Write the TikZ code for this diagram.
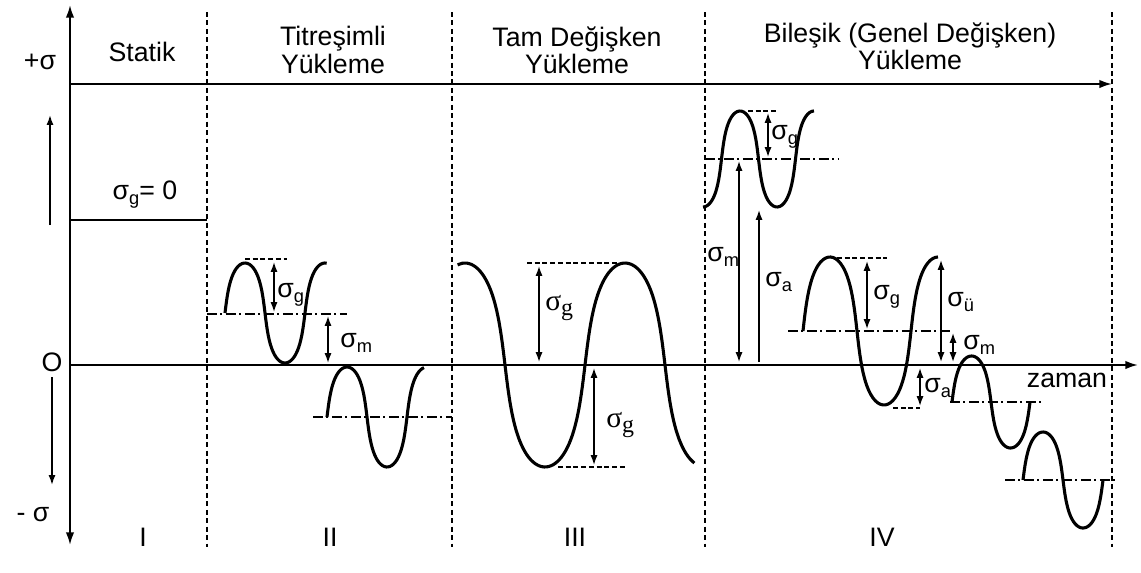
\documentclass[tikz,border=0pt]{standalone}
\usepackage{fontspec}
\setmainfont{Liberation Sans}
\newfontfamily\timesfam{Liberation Serif}
\usepackage{tikz}
\usetikzlibrary{arrows.meta}
\newcommand{\sig}[1]{σ\raisebox{-0.35ex}{\fontsize{13}{13}\selectfont #1}}
\newcommand{\sigser}[1]{σ\raisebox{-0.4ex}{\fontsize{17}{17}\selectfont #1}}

\tikzset{
  axis/.style={line width=1.4pt},
  wave/.style={line width=2.2pt, smooth, samples=80},
  dim/.style={line width=1pt, {Latex[length=7pt,width=5pt]}-{Latex[length=7pt,width=5pt]}},
  onedim/.style={line width=1pt, -{Latex[length=7pt,width=5pt]}},
  sep/.style={line width=1pt, dash pattern=on 3.5pt off 2.5pt},
  meanline/.style={line width=0.8pt, dash pattern=on 7pt off 2.5pt on 1.5pt off 2.5pt},
  peakline/.style={line width=0.8pt, dash pattern=on 3.5pt off 2pt},
  lbl/.style={font=\fontsize{19}{19.5}\selectfont, inner sep=0pt},
  sub/.style={lbl, anchor=west},
}

\begin{document}
\begin{tikzpicture}[x=0.025cm, y=-0.025cm]
  \useasboundingbox (0,0) rectangle (1141,572);
  % axes
  \draw[axis, {Latex[length=9pt,width=6pt]}-{Latex[length=9pt,width=6pt]}] (70,545) -- (70,5);
  \draw[axis, -{Latex[length=9pt,width=6pt]}] (70,84) -- (1112,84);
  \draw[axis, -{Latex[length=9pt,width=6pt]}] (70,365) -- (1138,365);
  \draw[onedim, line width=1.2pt] (50,225) -- (50,115);
  \draw[onedim, line width=1.2pt] (52,377) -- (52,485);
  \foreach \s in {207,452,705,1112}
    \draw[sep] (\s,12) -- (\s,547);

  \node[lbl] (plus) at (40,62) {+σ};
  \node[lbl] (zero) at (52,362) {O};
  \node[lbl] (minus) at (33,515) {- σ};
  \node[lbl] (zaman) at (1067,380) {zaman};
  \node[lbl] (statik) at (142,52) {Statik};
  \node[lbl, align=center] (titr) at (333,50) {Titreşimli\\Yükleme};
  \node[lbl, align=center] (tam) at (577,50) {Tam Değişken\\Yükleme};
  \node[lbl, align=center] (bil) at (910,46) {Bileşik (Genel Değişken)\\Yükleme};
  \foreach \p/\t in {143/I, 330/II, 575/III, 882/IV}
    \node[lbl] (r\t) at (\p,537) {\t};

  % statik
  \draw[line width=2pt] (70,220) -- (207,220);
  \node[lbl] (sg0) at (145,195) {\sig{g}= 0};

  % waves: phase start/end, mean, amplitude, rising zero, quarter period
  \foreach \a/\b/\m/\h/\o/\q in {0/455/313/50/225/20, 0/441/417/50/327/20,
      -281/254/365/102/585/40, -90/450/159/48/721.5/18.5, 0/450/331/74/803/27,
      0/360/402/46/952/19.5, 0/360/480/48/1023/20}
    \draw[wave] plot[variable=\t, domain=\a:\b]
      ({\o + \q/90*(\t - 15*sin(2*\t))}, {\m - \h*sin(\t)});

  % mean and peak lines
  \draw[meanline] (207,314) -- (347,314);
  \draw[meanline] (313,417) -- (452,417);
  \draw[meanline] (705,159) -- (838,159);
  \draw[meanline] (788,331) -- (950,331);
  \draw[meanline] (950,402) -- (1043,402);
  \draw[meanline] (1005,480) -- (1118,480);
  \draw[peakline] (245,259) -- (287,259);
  \draw[peakline] (527,263) -- (620,263);
  \draw[peakline] (558,467) -- (625,467);
  \draw[peakline] (748,111) -- (778,111);
  \draw[peakline] (837,258) -- (887,258);
  \draw[peakline] (893,408) -- (920,408);

  % dimensions
  \draw[dim] (274,262) -- (274,312);
  \draw[dim] (328,316) -- (328,363);
  \draw[dim] (539,266) -- (539,362);
  \draw[dim] (594,368) -- (594,465);
  \draw[dim] (768,113) -- (768,157);
  \draw[dim] (739,161) -- (739,362);
  \draw[onedim] (759,362) -- (759,210);
  \draw[dim] (867,261) -- (867,329);
  \draw[dim] (941,260) -- (941,362);
  \draw[dim] (953,333) -- (953,362);
  \draw[dim] (920,368) -- (920,406);

  \node[sub] (g2) at (277,295) {\sig{g}};
  \node[sub] (m2) at (340,343) {\sig{m}};
  \node[sub, font=\fontsize{21}{22}\timesfam] (g3a) at (545,308) {\sigser{g}};
  \node[sub, font=\fontsize{21}{22}\timesfam] (g3b) at (606,425) {\sigser{g}};
  \node[sub] (g4a) at (771,137) {\sig{g}};
  \node[sub] (m4a) at (707,257) {\sig{m}};
  \node[sub] (a4a) at (765,282) {\sig{a}};
  \node[sub] (g4b) at (873,297) {\sig{g}};
  \node[sub] (u4) at (947,302) {\sig{ü}};
  \node[sub] (m4b) at (963,345) {\sig{m}};
  \node[sub] (a4b) at (924,388) {\sig{a}};
\end{tikzpicture}
\end{document}
